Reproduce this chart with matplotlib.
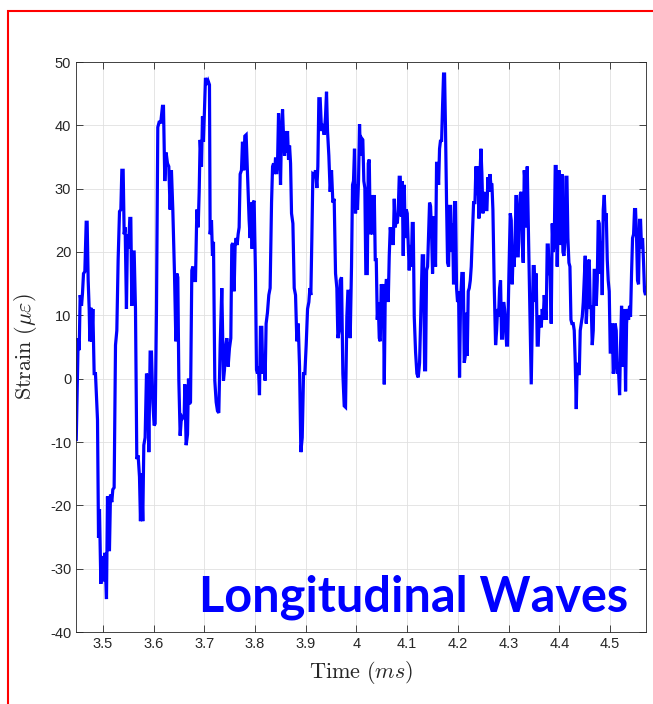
import matplotlib
matplotlib.use("Agg")
import matplotlib.pyplot as plt
from matplotlib.patches import Rectangle
from matplotlib.ticker import FormatStrFormatter
import numpy as np

# strain trace (time in ms, strain in microstrain)
t_ms = [
    3.4475, 3.4513, 3.4533, 3.4552, 3.4579, 3.4598, 3.4618, 3.4644, 3.4671, 3.4690,
    3.4710, 3.4730, 3.4743, 3.4763, 3.4782, 3.4802, 3.4828, 3.4854, 3.4894, 3.4914,
    3.4933, 3.4960, 3.4986, 3.5012, 3.5038, 3.5071, 3.5091, 3.5111, 3.5130, 3.5150,
    3.5176, 3.5196, 3.5222, 3.5249, 3.5275, 3.5301, 3.5328, 3.5354, 3.5374, 3.5400,
    3.5420, 3.5439, 3.5465, 3.5485, 3.5505, 3.5531, 3.5551, 3.5571, 3.5597, 3.5617,
    3.5643, 3.5669, 3.5695, 3.5722, 3.5741, 3.5761, 3.5787, 3.5807, 3.5833, 3.5860,
    3.5886, 3.5906, 3.5932, 3.5958, 3.5985, 3.6011, 3.6031, 3.6057, 3.6083, 3.6109,
    3.6142, 3.6175, 3.6195, 3.6221, 3.6247, 3.6274, 3.6300, 3.6326, 3.6352, 3.6379,
    # 3.64 - 3.83
    3.6412, 3.6439, 3.6458, 3.6478, 3.6498, 3.6524, 3.6550, 3.6577, 3.6603, 3.6616,
    3.6642, 3.6669, 3.6688, 3.6708, 3.6728, 3.6754, 3.6774, 3.6800, 3.6826, 3.6853,
    3.6879, 3.6899, 3.6918, 3.6945, 3.6964, 3.6984, 3.7004, 3.7023, 3.7050, 3.7076,
    3.7102, 3.7115, 3.7142, 3.7161, 3.7181, 3.7207, 3.7234, 3.7260, 3.7286, 3.7313,
    3.7345, 3.7378, 3.7398, 3.7418, 3.7444, 3.7470, 3.7496, 3.7523, 3.7542, 3.7562,
    3.7588, 3.7608, 3.7628, 3.7648, 3.7667, 3.7687, 3.7707, 3.7733, 3.7753, 3.7779,
    3.7799, 3.7825, 3.7845, 3.7864, 3.7884, 3.7904, 3.7924, 3.7943, 3.7963, 3.7983,
    3.8009, 3.8029, 3.8048, 3.8068, 3.8088, 3.8107, 3.8134, 3.8153, 3.8180, 3.8199,
    3.8219, 3.8245, 3.8272, 3.8298,
    # 3.83 - 4.02
    3.8326, 3.8346, 3.8366, 3.8385, 3.8405, 3.8425, 3.8444, 3.8464, 3.8484, 3.8503,
    3.8523, 3.8543, 3.8563, 3.8582, 3.8602, 3.8622, 3.8641, 3.8661, 3.8681, 3.8701,
    3.8720, 3.8747, 3.8773, 3.8799, 3.8825, 3.8852, 3.8878, 3.8904, 3.8931, 3.8957,
    3.8983, 3.9009, 3.9036, 3.9062, 3.9082, 3.9101, 3.9121, 3.9141, 3.9167, 3.9193,
    3.9220, 3.9239, 3.9259, 3.9285, 3.9312, 3.9338, 3.9364, 3.9390, 3.9410, 3.9430,
    3.9456, 3.9482, 3.9509, 3.9535, 3.9561, 3.9588, 3.9614, 3.9634, 3.9660, 3.9680,
    3.9706, 3.9732, 3.9759, 3.9785, 3.9811, 3.9831, 3.9850, 3.9877, 3.9903, 3.9923,
    3.9942, 3.9962, 3.9982, 4.0001, 4.0021, 4.0041, 4.0061, 4.0080, 4.0100, 4.0126,
    4.0146, 4.0166, 4.0185,
    # 4.02 - 4.21
    4.0214, 4.0233, 4.0253, 4.0273, 4.0292, 4.0312, 4.0332, 4.0352, 4.0371, 4.0391,
    4.0411, 4.0430, 4.0450, 4.0470, 4.0489, 4.0509, 4.0529, 4.0549, 4.0568, 4.0588,
    4.0608, 4.0627, 4.0647, 4.0667, 4.0687, 4.0706, 4.0726, 4.0746, 4.0765, 4.0785,
    4.0805, 4.0825, 4.0844, 4.0864, 4.0884, 4.0903, 4.0923, 4.0943, 4.0963, 4.0982,
    4.1002, 4.1022, 4.1041, 4.1061, 4.1081, 4.1101, 4.1120, 4.1140, 4.1166, 4.1192,
    4.1219, 4.1245, 4.1271, 4.1298, 4.1324, 4.1344, 4.1363, 4.1383, 4.1403, 4.1422,
    4.1442, 4.1462, 4.1482, 4.1501, 4.1521, 4.1541, 4.1560, 4.1580, 4.1600, 4.1620,
    4.1639, 4.1659, 4.1679, 4.1698, 4.1718, 4.1738, 4.1757, 4.1777, 4.1797, 4.1817,
    4.1836, 4.1856, 4.1876, 4.1895, 4.1915, 4.1935, 4.1955, 4.1974, 4.1994, 4.2014,
    4.2033, 4.2053, 4.2079,
    # 4.21 - 4.40
    4.2107, 4.2126, 4.2146, 4.2166, 4.2185, 4.2205, 4.2225, 4.2245, 4.2264, 4.2284,
    4.2310, 4.2337, 4.2356, 4.2376, 4.2396, 4.2415, 4.2435, 4.2455, 4.2474, 4.2494,
    4.2514, 4.2534, 4.2553, 4.2573, 4.2593, 4.2612, 4.2632, 4.2652, 4.2672, 4.2691,
    4.2718, 4.2744, 4.2764, 4.2783, 4.2803, 4.2823, 4.2842, 4.2862, 4.2882, 4.2902,
    4.2921, 4.2941, 4.2961, 4.2980, 4.3007, 4.3033, 4.3053, 4.3072, 4.3092, 4.3112,
    4.3131, 4.3151, 4.3171, 4.3191, 4.3210, 4.3230, 4.3250, 4.3269, 4.3289, 4.3309,
    4.3329, 4.3348, 4.3368, 4.3388, 4.3407, 4.3427, 4.3447, 4.3467, 4.3486, 4.3506,
    4.3526, 4.3545, 4.3565, 4.3585, 4.3604, 4.3624, 4.3644, 4.3664, 4.3683, 4.3703,
    4.3723, 4.3742, 4.3762, 4.3782, 4.3801, 4.3821, 4.3841, 4.3861, 4.3880, 4.3900,
    4.3920, 4.3939, 4.3959,
    # 4.40 - end
    4.3993, 4.4013, 4.4032, 4.4052, 4.4072, 4.4092, 4.4111, 4.4131, 4.4151, 4.4170,
    4.4190, 4.4210, 4.4230, 4.4249, 4.4275, 4.4295, 4.4315, 4.4335, 4.4354, 4.4374,
    4.4394, 4.4413, 4.4433, 4.4453, 4.4473, 4.4492, 4.4512, 4.4532, 4.4551, 4.4571,
    4.4591, 4.4611, 4.4630, 4.4650, 4.4670, 4.4689, 4.4709, 4.4729, 4.4749, 4.4768,
    4.4788, 4.4808, 4.4827, 4.4847, 4.4867, 4.4887, 4.4906, 4.4926, 4.4946, 4.4965,
    4.4985, 4.5005, 4.5024, 4.5044, 4.5064, 4.5084, 4.5103, 4.5123, 4.5143, 4.5162,
    4.5189, 4.5208, 4.5228, 4.5248, 4.5268, 4.5287, 4.5307, 4.5327, 4.5346, 4.5366,
    4.5386, 4.5405, 4.5425, 4.5445, 4.5465, 4.5484, 4.5504, 4.5524, 4.5543, 4.5563,
    4.5583, 4.5603, 4.5622, 4.5642, 4.5662, 4.5681, 4.5701, 4.5721,
]

strain = [
    -9.6, 6.4, 4.5, 13.2, 11.5, 13.5, 16.6, 16.9, 24.7, 24.7,
    15.5, 11.0, 5.9, 11.2, 5.9, 11.0, 0.8, 0.8, -6.5, -25.1,
    -20.6, -32.4, -28.0, -32.0, -27.5, -34.8, -18.6, -27.0, -27.0, -18.3,
    -19.5, -17.5, -17.2, 5.3, 7.6, 18.8, 26.4, 26.7, 32.9, 32.9,
    22.8, 23.9, 11.0, 22.8, 20.5, 25.3, 25.3, 11.5, 20.0, 20.0,
    11.0, -12.7, -12.1, -15.5, -22.5, -14.9, -22.5, -10.5, -9.3, 0.8,
    -0.3, -11.6, 4.2, 4.2, -3.7, -7.4, -7.1, 11.0, 39.7, 40.5,
    40.5, 43.0, 43.0, 31.2, 35.7, 34.0, 33.5, 26.7, 32.9, 26.7,
    # 3.64 - 3.83
    16.6, 5.9, 16.6, 16.0, -0.3, -9.0, -5.9, -6.2, -5.9, -0.9,
    -10.5, -8.8, 0.0, -4.0, -3.7, 17.1, 17.7, 15.5, 15.5, 26.7,
    23.9, 29.5, 37.7, 33.5, 41.4, 37.4, 42.8, 47.5, 46.4, 47.0,
    46.4, 22.8, 25.0, 19.4, 21.6, -0.3, -3.7, -5.1, -5.4, 5.3,
    14.3, -0.3, 1.4, 4.8, 6.4, 1.9, 4.8, 6.4, 21.1, 21.4,
    13.8, 21.1, 22.2, 21.1, 22.8, 23.9, 32.3, 32.9, 37.4, 32.9,
    38.3, 38.5, 34.0, 30.1, 25.0, 22.2, 27.8, 20.5, 27.8, 28.1,
    16.6, 1.4, 0.8, 1.9, -2.6, 8.1, 8.1, 0.8, 3.6, -0.3,
    8.7, 10.4, 13.2, 14.3,
    # 3.83 - 4.02
    27.8, 33.5, 34.0, 32.3, 34.9, 32.3, 34.0, 41.9, 36.8, 30.6,
    39.1, 42.5, 38.0, 35.2, 39.1, 35.7, 39.1, 34.6, 36.8, 34.0,
    26.1, 24.5, 14.3, 13.2, 5.9, 8.7, 1.9, -11.6, -9.3, 0.8,
    0.8, 5.3, 11.0, 12.1, 14.3, 13.2, 22.2, 32.3, 32.1, 32.9,
    30.1, 33.5, 44.2, 44.2, 39.1, 40.2, 38.5, 41.4, 45.3, 39.1,
    35.2, 29.5, 32.9, 27.8, 28.4, 16.6, 14.3, 6.4, 7.6, 15.5,
    16.0, 0.8, -4.3, -4.5, 9.8, 13.8, 13.8, 6.4, 17.7, 30.6,
    31.2, 36.3, 26.1, 30.6, 26.7, 31.2, 40.2, 35.2, 38.0, 37.7,
    31.2, 30.1, 16.6,
    # 4.02 - 4.21
    16.6, 34.0, 34.6, 22.8, 23.3, 29.0, 22.8, 29.0, 18.8, 18.8,
    9.3, 12.1, 6.4, 5.9, 14.9, 14.3, 14.9, -0.9, 13.2, 15.5,
    15.5, 12.1, 19.4, 23.9, 22.2, 23.9, 21.1, 28.4, 23.9, 25.0,
    24.5, 26.7, 31.8, 31.8, 25.6, 31.2, 19.4, 30.6, 22.2, 26.7,
    26.1, 21.1, 17.1, 21.1, 17.7, 24.5, 24.5, 9.8, 4.2, 0.8,
    0.2, 2.5, 11.0, 19.4, 19.4, 1.4, 1.4, 17.1, 17.7, 22.8,
    27.8, 27.2, 22.8, 16.6, 25.6, 22.2, 17.7, 34.0, 34.0, 30.6,
    36.3, 37.7, 37.4, 43.0, 48.1, 48.1, 39.1, 27.8, 18.3, 17.7,
    27.2, 27.2, 20.0, 24.5, 14.9, 27.8, 27.8, 14.3, 12.1, 13.8,
    0.2, 12.1, 16.6,
    # 4.21 - 4.40
    16.6, 2.5, 3.6, 10.4, 3.6, 13.8, 14.3, 15.5, 17.7, 22.2,
    27.8, 27.8, 33.5, 29.0, 33.5, 25.3, 31.8, 36.3, 32.3, 26.1,
    29.5, 26.7, 26.7, 26.7, 31.8, 29.5, 32.3, 30.6, 30.6, 26.7,
    14.3, 5.3, 7.6, 11.0, 9.8, 14.3, 15.5, 6.4, 6.4, 12.1,
    11.0, 8.7, 5.3, 5.3, 16.6, 26.1, 25.0, 14.9, 20.5, 17.7,
    23.3, 29.0, 19.4, 19.4, 26.7, 29.0, 29.5, 21.6, 18.3, 32.9,
    30.6, 23.9, 33.5, 25.0, 17.7, 8.7, -0.9, 8.7, 17.7, 17.7,
    12.1, 16.6, 5.3, 5.3, 9.8, 9.8, 8.1, 11.0, 9.3, 13.2,
    11.0, 9.3, 21.1, 21.1, 16.6, 16.6, 8.7, 24.5, 20.0, 21.1,
    33.5, 33.5, 17.7,
    # 4.40 - end
    32.9, 31.8, 21.1, 32.3, 20.0, 19.4, 21.6, 31.8, 31.8, 22.2,
    18.3, 17.7, 9.3, 8.7, 8.7, 7.6, 2.5, -4.8, 2.5, 0.8,
    0.8, 7.6, 8.7, 9.8, 12.1, 15.5, 19.4, 8.7, 12.1, 18.3,
    18.8, 11.0, 11.5, 5.3, 7.6, 17.1, 17.1, 11.5, 15.5, 25.0,
    24.5, 16.6, 21.6, 13.2, 26.7, 29.0, 25.0, 26.1, 18.8, 15.5,
    13.8, 4.2, 4.2, 8.7, 0.8, 1.9, 8.7, 7.6, 0.8, 2.5,
    -2.6, 5.3, 11.5, 1.9, 7.6, 11.0, -2.0, 8.7, 11.0, 9.3,
    11.5, 9.8, 16.6, 22.2, 22.8, 26.7, 26.7, 22.2, 15.5, 14.9,
    25.0, 25.0, 20.5, 22.2, 18.3, 13.8, 13.2, 14.3,
]

x_ticks = [3.5, 3.6, 3.7, 3.8, 3.9, 4.0, 4.1, 4.2, 4.3, 4.4, 4.5]
y_ticks = [-40, -30, -20, -10, 0, 10, 20, 30, 40, 50]

plt.rcParams["mathtext.fontset"] = "cm"
plt.rcParams["axes.unicode_minus"] = False
plt.rcParams["font.family"] = ["Liberation Sans", "DejaVu Sans"]

fig = plt.figure(figsize=(6.53, 7.04), dpi=100)
ax = fig.add_axes([76 / 653, 1 - 632 / 704, (646 - 76) / 653, (632 - 62) / 704])

ax.plot(t_ms, strain, color=(0, 0, 1), linewidth=2.3, solid_joinstyle="miter")

ax.set_xlim(3.447, 4.571)
ax.set_ylim(-40, 50)
ax.set_xticks(x_ticks)
ax.set_yticks(y_ticks)
ax.xaxis.set_major_formatter(FormatStrFormatter("%g"))
ax.grid(True, color="#e0e0e0", linewidth=0.6)
ax.set_axisbelow(True)

edge = "#262626"
for s in ax.spines.values():
    s.set_color(edge)
    s.set_linewidth(0.6)
ax.tick_params(direction="in", top=True, right=True, length=5, width=0.6,
               color=edge, labelcolor=edge, labelsize=10.5)

ax.set_xlabel(r"$\mathrm{Time}\ (ms)$", fontsize=16, color=edge, labelpad=6)
ax.set_ylabel(r"$\mathrm{Strain}\ (\mu\varepsilon)$", fontsize=16, color=edge, labelpad=8)

fig.text(628 / 653, 1 - 612 / 704, "Longitudinal Waves", color=(0, 0, 1),
         fontsize=35, fontweight="bold", family=["Lato", "DejaVu Sans"],
         ha="right", va="baseline")

# red frame, only the top and left edges fall inside the image
fig.patches.append(Rectangle((7.5 / 653, -0.05), 1.2, 1.05 - 10.5 / 704,
                             transform=fig.transFigure, fill=False,
                             edgecolor="red", linewidth=1.5))

plt.savefig("out.png", dpi=100)
